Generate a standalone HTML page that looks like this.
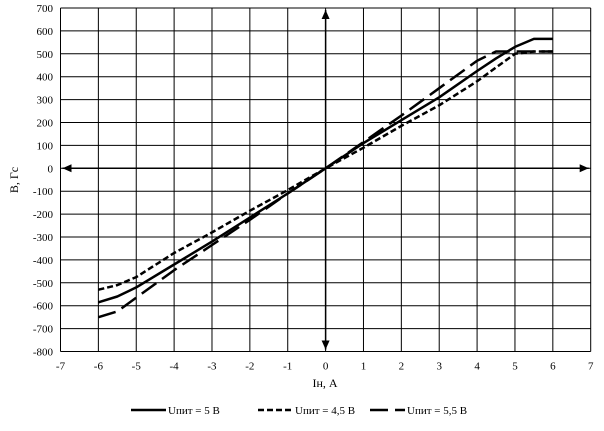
<!DOCTYPE html>
<html><head><meta charset="utf-8"><style>
body{margin:0;background:#fff;}
svg{display:block;font-family:"Liberation Serif",serif;}
</style></head><body>
<svg id="chart" width="604" height="431" viewBox="0 0 604 431">
<g id="grid"></g>
<g id="axes"></g>
<g id="series"></g>
<text x="325" y="387" font-size="12" text-anchor="middle">Iн, A</text>
<text x="18" y="180" font-size="12" text-anchor="middle" transform="rotate(-90 18 180)">B, Гс</text>
<g id="legend"></g>
</svg>
<script>
const xTicks=[-7,-6,-5,-4,-3,-2,-1,0,1,2,3,4,5,6,7];
const yTicks=[700,600,500,400,300,200,100,0,-100,-200,-300,-400,-500,-600,-700,-800];
const xs=[-6,-5.5,-5,-4,-3,-2,-1,0,1,2,3,4,4.5,5,5.5,6];
const s5=[-585,-560,-520,-420,-320,-215,-110,0,110,210,310,425,480,530,565,565];
const s45=[-530,-510,-475,-370,-280,-185,-95,0,90,185,275,380,440,500,510,510];
const s55=[-650,-625,-565,-445,-335,-225,-110,0,115,230,350,470,510,510,510,510];
const names=["Uпит = 5 В","Uпит = 4,5 В","Uпит = 5,5 В"];
const NS="http://www.w3.org/2000/svg";
const X=v=>60.5+(v+7)*(530.2/14);
const Y=v=>8+(700-v)*(343.5/1500);
function mk(tag,attrs,parent){const e=document.createElementNS(NS,tag);for(const k in attrs)e.setAttribute(k,attrs[k]);parent.appendChild(e);return e;}
const grid=document.getElementById('grid'),axes=document.getElementById('axes'),ser=document.getElementById('series'),leg=document.getElementById('legend');
xTicks.forEach(t=>{
 const l=mk('line',{x1:X(t),x2:X(t),y1:Y(700),y2:Y(-800),stroke:'#000','stroke-width':1},grid);
 
 
 const tx=mk('text',{x:X(t),y:Y(-800)+18,'font-size':11,'text-anchor':'middle'},axes);tx.textContent=t;
 
 
});
yTicks.forEach(t=>{
 const l=mk('line',{x1:X(-7),x2:X(7),y1:Y(t),y2:Y(t),stroke:'#000','stroke-width':1},grid);
 
 
 const tx=mk('text',{x:53,y:Y(t)+4,'font-size':11,'text-anchor':'end'},axes);tx.textContent=t;
 
 
});
const a1=mk('line',{x1:X(-7)+2,x2:X(7)-2,y1:Y(0),y2:Y(0),stroke:'#000','stroke-width':1.5},axes);


const a2=mk('line',{x1:X(0),x2:X(0),y1:Y(700)+2,y2:Y(-800)-2,stroke:'#000','stroke-width':1.5},axes);


[[X(-7)+2,Y(0),1,0],[X(7)-2,Y(0),-1,0],[X(0),Y(700)+2,0,1],[X(0),Y(-800)-2,0,-1]].forEach(a=>{
 const [x,y,dx,dy]=a;
 const p=mk('path',{d:`M${x},${y} L${x+dx*9-dy*4},${y+dy*9-dx*4} L${x+dx*9+dy*4},${y+dy*9+dx*4} Z`,fill:'#000'},axes);
 
 
});
const styles=[{d:'none'},{d:'6,3'},{d:'18,7'}];
[s5,s45,s55].forEach((s,i)=>{
 const d=s.map((v,j)=>(j?'L':'M')+X(xs[j]).toFixed(1)+','+Y(v).toFixed(1)).join(' ');
 const p=mk('path',{d:d,fill:'none',stroke:'#000','stroke-width':2.5,'stroke-dasharray':styles[i].d,'stroke-linejoin':'round'},ser);
 
 
 const lx=[131,258,370][i];
 const ll=mk('line',{x1:lx,x2:lx+35,y1:410,y2:410,stroke:'#000','stroke-width':2.5,'stroke-dasharray':styles[i].d},leg);
 
 
 const lt=mk('text',{x:lx+37,y:414,'font-size':11},leg);lt.textContent=names[i];
 
 
});
</script>
</body></html>
